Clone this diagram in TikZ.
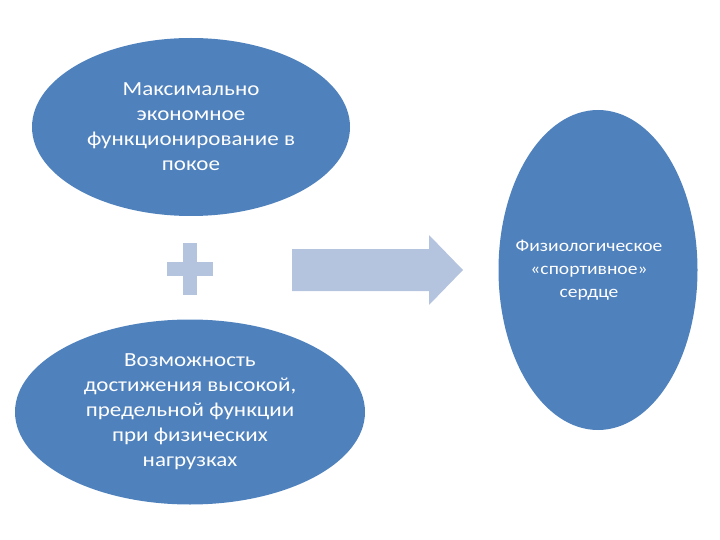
\documentclass[tikz,border=0pt]{standalone}
\usepackage{fontspec}
\setmainfont{Carlito}[FakeStretch=1.15]
\usepackage{xcolor}
\usetikzlibrary{shapes,arrows,positioning}

\definecolor{ovalblue}{HTML}{4F81BD}
\definecolor{paleblue}{HTML}{B4C4DF}

\begin{document}
\begin{tikzpicture}[x=1pt, y=-1pt,
    oval/.style={ellipse, fill=ovalblue, inner sep=0pt},
    label/.style={text=white, align=center, font=\fontsize{20}{25}\selectfont},
    smalllabel/.style={text=white, align=center, font=\fontsize{17}{23}\selectfont}
]
    \useasboundingbox (0,0) rectangle (720,540);

    % Ellipses
    \node[oval, minimum width=318pt, minimum height=178pt] (rest) at (191,127) {};
    \node[oval, minimum width=350pt, minimum height=185pt] (load) at (190,412) {};
    \node[oval, minimum width=199pt, minimum height=320pt] (heart) at (598,270) {};

    % Texts
    \node[label] (resttext) at (rest.center) {Максимально\\экономное\\функционирование в\\покое};
    \node[label] (loadtext) at (load.center) {Возможность\\достижения высокой,\\предельной функции\\при физических\\нагрузках};
    \node[smalllabel, left=0pt of heart.center, anchor=center, xshift=-9pt] (hearttext) {Физиологическое\\«спортивное»\\сердце};

    % Plus
    \fill[paleblue] (183,243) rectangle (197,295);
    \fill[paleblue] (167,262) rectangle (213,276);

    % Arrow
    \fill[paleblue] (292,249) -- (429,249) -- (429,235) -- (463,270)
        -- (429,305) -- (429,291) -- (292,291) -- cycle;
\end{tikzpicture}
\end{document}
